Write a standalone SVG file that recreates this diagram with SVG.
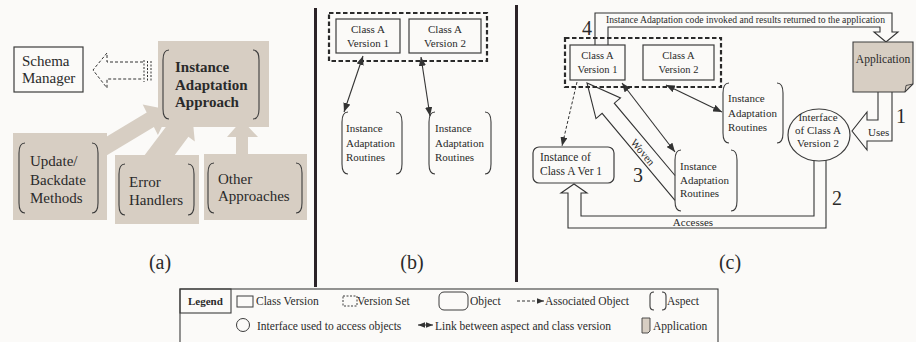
<svg xmlns="http://www.w3.org/2000/svg" width="916" height="342" viewBox="0 0 916 342">
  <style>
    text { font-family: "Liberation Serif", "Times New Roman", serif; fill: #2a2a2a; }
    .t15 { font-size: 15px; }
    .b15 { font-size: 15px; font-weight: bold; }
    .t11 { font-size: 11px; }
    .t10 { font-size: 10.5px; }
    .lg { font-size: 11.5px; }
    .num { font-size: 20px; }
    .cap { font-size: 20px; }
    .box { fill: #fbfaf8; stroke: #3c3c3c; stroke-width: 1.2; }
    .tan { fill: #d7cec3; }
    .brk { fill: none; stroke: #3c3c3c; stroke-width: 1.1; }
    .vset { fill: none; stroke: #2a2a2a; stroke-width: 2.2; stroke-dasharray: 4.5 2.5; }
    .ln { fill: none; stroke: #333; stroke-width: 1.1; }
    .hollow { fill: #fbfaf8; stroke: #333; stroke-width: 1.1; }
    .dash { fill: none; stroke: #333; stroke-width: 1; stroke-dasharray: 3 2; }
    .divider { fill: #2b2328; }
  </style>
  <defs>
    <marker id="ah" viewBox="0 0 10 8" refX="10" refY="4" markerWidth="9" markerHeight="7.2" markerUnits="userSpaceOnUse" orient="auto-start-reverse">
      <path d="M0,0 L10,4 L0,8 z" fill="#333"/>
    </marker>
    <marker id="ahs" viewBox="0 0 10 8" refX="10" refY="4" markerWidth="7" markerHeight="5.6" markerUnits="userSpaceOnUse" orient="auto-start-reverse">
      <path d="M0,0 L10,4 L0,8 z" fill="#333"/>
    </marker>
  </defs>

  <rect width="916" height="342" fill="#fbfaf8"/>

  <!-- panel dividers -->
  <rect class="divider" x="314" y="8" width="3" height="279"/>
  <rect class="divider" x="515" y="5" width="3" height="277"/>

  <!-- ===== panel (a) ===== -->
  <g id="a-connectors">
    <!-- broad tan arrows feeding the approach box -->
    <polygon class="tan" points="91.4,145.8 146.7,112.6 142.7,104.6 170,110 157.9,135 153.9,127 98.6,160.2"/>
    <polygon class="tan" points="134.4,168.8 169.2,122.4 162.8,117.6 192,112 194.8,141.6 188.4,136.8 153.6,183.2"/>
    <polygon class="tan" points="236,160 236,137 227,137 242,120 258,137 248,137 248,160"/>
    <!-- dashed hollow arrow to the schema manager -->
    <path class="dash" d="M143,62 H107 V53 L93,70 L107,88 V79 H143"/>
    <g stroke="#333" stroke-width="1" stroke-dasharray="2 1.5">
      <line x1="144" y1="60" x2="144" y2="82"/>
      <line x1="147.5" y1="61" x2="147.5" y2="81"/>
      <line x1="151" y1="61" x2="151" y2="81"/>
    </g>
  </g>

  <g id="schema-manager">
    <rect class="box" x="14" y="47" width="69" height="45"/>
    <text class="t15" x="22" y="66">Schema</text>
    <text class="t15" x="22" y="83">Manager</text>
  </g>

  <g id="adaptation-approach">
    <rect class="tan" x="158" y="41" width="111" height="86"/>
    <path class="brk" d="M169,50 Q163,50 163,60 V109 Q163,119 169,119 M253,50 Q259,50 259,60 V109 Q259,119 253,119"/>
    <text class="b15" x="175" y="72">Instance</text>
    <text class="b15" x="175" y="90">Adaptation</text>
    <text class="b15" x="175" y="107">Approach</text>
  </g>

  <g id="update-backdate">
    <rect class="tan" x="13" y="133" width="94" height="87"/>
    <path class="brk" d="M25,143 Q19,143 19,153 V203 Q19,213 25,213 M92,143 Q98,143 98,153 V203 Q98,213 92,213"/>
    <text class="t15" x="30" y="166">Update/</text>
    <text class="t15" x="30" y="185">Backdate</text>
    <text class="t15" x="30" y="203">Methods</text>
  </g>

  <g id="error-handlers">
    <rect class="tan" x="115" y="155" width="84" height="69"/>
    <path class="brk" d="M125,164 Q119,164 119,174 V205 Q119,215 125,215 M188,164 Q194,164 194,174 V205 Q194,215 188,215"/>
    <text class="t15" x="129" y="187">Error</text>
    <text class="t15" x="129" y="205">Handlers</text>
  </g>

  <g id="other-approaches">
    <rect class="tan" x="204" y="154" width="103" height="66"/>
    <path class="brk" d="M214,163 Q208,163 208,173 V203 Q208,213 214,213 M296,163 Q302,163 302,173 V203 Q302,213 296,213"/>
    <text class="t15" x="218" y="184">Other</text>
    <text class="t15" x="218" y="201">Approaches</text>
  </g>

  <text class="cap" x="160" y="269" text-anchor="middle">(a)</text>

  <!-- ===== panel (b) ===== -->
  <g id="b-version-set">
    <rect class="vset" x="329" y="13" width="158" height="48"/>
  </g>
  <g id="b-class-v1">
    <rect class="box" x="336" y="19" width="64" height="34"/>
    <text class="t11" x="368" y="33" text-anchor="middle">Class A</text>
    <text class="t11" x="368" y="47" text-anchor="middle">Version 1</text>
  </g>
  <g id="b-class-v2">
    <rect class="box" x="409" y="19" width="72" height="34"/>
    <text class="t11" x="445" y="33" text-anchor="middle">Class A</text>
    <text class="t11" x="445" y="47" text-anchor="middle">Version 2</text>
  </g>
  <g id="b-routines-1">
    <path class="brk" d="M348,112 Q342,112 342,122 V164 Q342,174 348,174 M396,112 Q402,112 402,122 V164 Q402,174 396,174"/>
    <text class="t11" x="346" y="132">Instance</text>
    <text class="t11" x="346" y="147">Adaptation</text>
    <text class="t11" x="346" y="161">Routines</text>
  </g>
  <g id="b-routines-2">
    <path class="brk" d="M435,112 Q429,112 429,122 V164 Q429,174 435,174 M485,112 Q491,112 491,122 V164 Q491,174 485,174"/>
    <text class="t11" x="435" y="132">Instance</text>
    <text class="t11" x="435" y="147">Adaptation</text>
    <text class="t11" x="435" y="161">Routines</text>
  </g>
  <g id="b-connectors">
    <line class="ln" x1="363" y1="56" x2="344" y2="112" marker-start="url(#ah)" marker-end="url(#ah)"/>
    <line class="ln" x1="421" y1="57" x2="430" y2="116" marker-start="url(#ah)" marker-end="url(#ah)"/>
  </g>

  <text class="cap" x="412" y="269" text-anchor="middle">(b)</text>

  <!-- ===== panel (c) ===== -->
  <g id="c-connectors">
    <!-- 4: results returned to the application -->
    <path class="hollow" fill="none" d="M595,45 V13 H892 V32 H898 L886,42 L874,32 H880 V27 H608 V45"/>
    <text x="606" y="23" font-size="9.5" textLength="279" lengthAdjust="spacingAndGlyphs">Instance Adaptation code invoked and results returned to the application</text>
    <!-- 1: uses -->
    <path class="hollow" d="M878,92 V120 H867 V112 L852,131 L867,150 V141 H892 V92"/>
    <text x="868" y="136" font-size="11">Uses</text>
    <!-- 2: accesses -->
    <path class="hollow" d="M814,160 V216 H581 V193 H587 L574,184 L561,193 H568 V228 H826 V160"/>
    <text x="693" y="226" font-size="11" text-anchor="middle">Accesses</text>
    <!-- 3: woven -->
    <path class="hollow" d="M675,175.5 L614.3,103.2 L620.5,98 L587,83 L596,118.6 L602.1,113.4 L675,200.3"/>
    <text x="643" y="152" font-size="11" text-anchor="middle" dominant-baseline="central" transform="rotate(50 643 152)">Woven</text>
    <!-- aspect links -->
    <line class="ln" x1="622" y1="83" x2="675" y2="152" marker-start="url(#ah)" marker-end="url(#ah)"/>
    <line class="ln" x1="666" y1="85" x2="722" y2="112" marker-start="url(#ah)" marker-end="url(#ah)"/>
    <!-- associated object -->
    <line class="dash" x1="577" y1="82" x2="562" y2="146" marker-end="url(#ah)"/>
  </g>

  <g id="c-version-set">
    <rect class="vset" x="565" y="38" width="156" height="49"/>
  </g>
  <g id="c-class-v1">
    <rect class="box" x="570" y="45" width="55" height="35"/>
    <text class="t10" x="597.5" y="59" text-anchor="middle">Class A</text>
    <text class="t10" x="597.5" y="73" text-anchor="middle">Version 1</text>
  </g>
  <g id="c-class-v2">
    <rect class="box" x="643" y="45" width="71" height="35"/>
    <text class="t10" x="678.5" y="59" text-anchor="middle">Class A</text>
    <text class="t10" x="678.5" y="73" text-anchor="middle">Version 2</text>
  </g>
  <g id="application">
    <path d="M853,42 H913 V84 L905,92 H853 Z" fill="#d7cec3" stroke="#3c3c3c" stroke-width="1.1"/>
    <path d="M913,84 L906,85.5 L905,92" fill="none" stroke="#3c3c3c" stroke-width="0.9"/>
    <text x="883" y="63" font-size="11.5" text-anchor="middle">Application</text>
  </g>
  <g id="c-routines-right">
    <path class="brk" d="M729,83 Q723,83 723,93 V133 Q723,143 729,143 M777,83 Q783,83 783,93 V133 Q783,143 777,143"/>
    <text class="t11" x="728" y="102">Instance</text>
    <text class="t11" x="728" y="117">Adaptation</text>
    <text class="t11" x="728" y="131">Routines</text>
  </g>
  <g id="interface-v2">
    <ellipse class="box" cx="819" cy="135" rx="31" ry="26"/>
    <text class="t11" x="818" y="121" text-anchor="middle">Interface</text>
    <text class="t11" x="818" y="134" text-anchor="middle">of Class A</text>
    <text class="t11" x="818" y="147" text-anchor="middle">Version 2</text>
  </g>
  <g id="instance-v1">
    <rect class="box" x="533" y="147" width="81" height="36" rx="6"/>
    <text x="540" y="161" font-size="11.5">Instance of</text>
    <text x="540" y="175" font-size="11.5">Class A Ver 1</text>
  </g>
  <g id="c-routines-lower">
    <path class="brk" d="M681,150 Q675,150 675,160 V201 Q675,211 681,211 M731,150 Q737,150 737,160 V201 Q737,211 731,211"/>
    <text class="t11" x="680" y="170">Instance</text>
    <text class="t11" x="680" y="184">Adaptation</text>
    <text class="t11" x="680" y="197">Routines</text>
  </g>

  <g id="step-numbers">
    <text class="num" x="582" y="35">4</text>
    <text class="num" x="896" y="123">1</text>
    <text class="num" x="832" y="205">2</text>
    <text class="num" x="633" y="182">3</text>
  </g>

  <text class="cap" x="730" y="269" text-anchor="middle">(c)</text>

  <!-- ===== legend ===== -->
  <g id="legend">
    <rect x="180" y="289" width="538" height="58" fill="none" stroke="#3c3c3c" stroke-width="1.1"/>
    <rect x="180" y="289" width="51" height="24" fill="none" stroke="#3c3c3c" stroke-width="1.1"/>
    <text x="188" y="305" font-size="11" font-weight="bold">Legend</text>

    <rect x="237" y="296" width="16" height="11" fill="none" stroke="#3c3c3c" stroke-width="1"/>
    <text class="lg" x="256" y="305">Class Version</text>

    <rect x="343" y="296" width="14" height="10" fill="none" stroke="#3c3c3c" stroke-width="1" stroke-dasharray="2 1.5"/>
    <text class="lg" x="357" y="305">Version Set</text>

    <rect x="439" y="292" width="29" height="18" rx="5" fill="none" stroke="#3c3c3c" stroke-width="1"/>
    <text class="lg" x="470" y="305">Object</text>

    <line x1="517" y1="301" x2="544" y2="301" stroke="#333" stroke-width="1" stroke-dasharray="3 2" marker-end="url(#ahs)"/>
    <text class="lg" x="545" y="305">Associated Object</text>

    <path class="brk" d="M654,292 Q650,292 650,296 V306 Q650,310 654,310 M662,292 Q666,292 666,296 V306 Q666,310 662,310"/>
    <text class="lg" x="667" y="305">Aspect</text>

    <circle cx="243" cy="325" r="6.5" fill="none" stroke="#3c3c3c" stroke-width="1"/>
    <text class="lg" x="257" y="330">Interface used to access objects</text>

    <line x1="418" y1="325" x2="433" y2="325" stroke="#333" stroke-width="1" marker-start="url(#ahs)" marker-end="url(#ahs)"/>
    <text class="lg" x="435" y="330">Link between aspect and class version</text>

    <path d="M642,318 H650 V331 L648,333 H642 Z" fill="#d7cec3" stroke="#3c3c3c" stroke-width="0.9"/>
    <text class="lg" x="653" y="330">Application</text>
  </g>
</svg>
